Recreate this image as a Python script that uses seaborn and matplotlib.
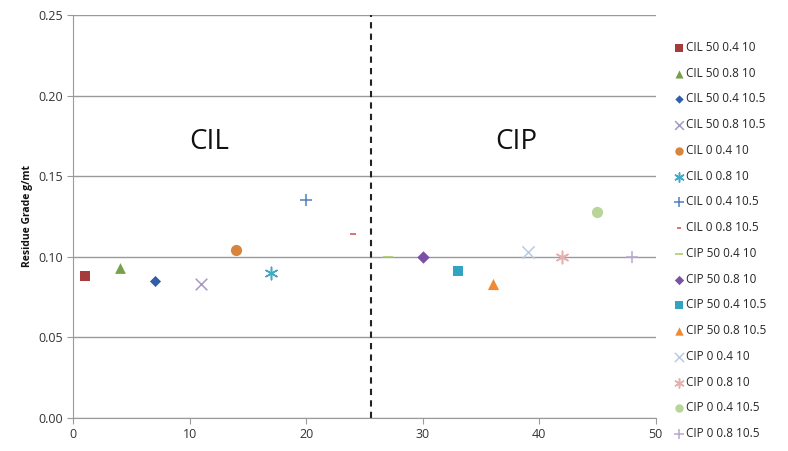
import matplotlib
matplotlib.use("Agg")
import matplotlib.pyplot as plt
import seaborn as sns
import pandas as pd

labels = ["CIL 50 0.4 10", "CIL 50 0.8 10", "CIL 50 0.4 10.5", "CIL 50 0.8 10.5",
          "CIL 0 0.4 10", "CIL 0 0.8 10", "CIL 0 0.4 10.5", "CIL 0 0.8 10.5",
          "CIP 50 0.4 10", "CIP 50 0.8 10", "CIP 50 0.4 10.5", "CIP 50 0.8 10.5",
          "CIP 0 0.4 10", "CIP 0 0.8 10", "CIP 0 0.4 10.5", "CIP 0 0.8 10.5"]
run = [1, 4, 7, 11, 14, 17, 20, 24, 27, 30, 33, 36, 39, 42, 45, 48]
grade = [0.088, 0.093, 0.085, 0.083, 0.104, 0.090, 0.135, 0.114,
         0.100, 0.100, 0.091, 0.083, 0.103, 0.100, 0.128, 0.100]

colors = ["#A53B3A", "#77A04A", "#2F5FA8", "#A699C4", "#D9843C", "#45A8C4", "#4F7FC0", "#D05050",
          "#A8C860", "#7B4FA6", "#33A3C2", "#F08A36", "#B8CCE6", "#E4B0B0", "#B9D59A", "#B8A8D0"]
markers = ["s", "^", "D", "x", "o", (6, 2, 0), "+", "_",
           "_", "D", "s", "^", "x", (6, 2, 0), "o", "+"]
sizes = [55, 60, 32, 70, 65, 80, 80, 20, 60, 40, 60, 65, 80, 80, 65, 80]
line_art = ["x", "+", "_", "|", (6, 2, 0)]

df = pd.DataFrame({"run": run, "grade": grade, "label": labels})

sns.set_style("white")
plt.rcParams["font.family"] = ["Open Sans", "DejaVu Sans"]

fig, ax = plt.subplots(figsize=(7.88, 4.51), dpi=100)
fig.subplots_adjust(left=0.093, right=0.832, top=0.967, bottom=0.073)

for i, row in df.iterrows():
    sns.scatterplot(data=df.iloc[[i]], x="run", y="grade", ax=ax,
                    color=colors[i], marker=markers[i], s=sizes[i],
                    linewidth=1.1 if markers[i] in line_art else 0,
                    label=row["label"])

ax.axvline(25.6, color="#222222", linestyle=(0, (3, 2.5)), linewidth=1.5)
ax.text(11.7, 0.171, "CIL", fontsize=20, ha="center", va="center", color="#111111")
ax.text(38.0, 0.171, "CIP", fontsize=20, ha="center", va="center", color="#111111")

ax.set_xlim(0, 50)
ax.set_ylim(0, 0.25)
ax.set_xticks([0, 10, 20, 30, 40, 50])
ax.set_yticks([0, 0.05, 0.10, 0.15, 0.20, 0.25])
ax.set_yticklabels(["0.00", "0.05", "0.10", "0.15", "0.20", "0.25"])
ax.yaxis.grid(True, color="#9a9a9a", linewidth=1)
ax.xaxis.grid(False)
ax.set_axisbelow(True)
for s in ["top", "right"]:
    ax.spines[s].set_visible(False)
for s in ["left", "bottom"]:
    ax.spines[s].set_color("#9a9a9a")
ax.tick_params(axis="both", labelsize=9, colors="#333333", length=4, direction="out",
               left=True, bottom=True, color="#9a9a9a")
ax.set_xlabel("")
ax.set_ylabel("Residue Grade g/mt", fontsize=7.5, fontweight="bold", color="#111111")

ax.legend(loc="upper left", bbox_to_anchor=(1.022, 0.947), frameon=False, fontsize=8.5,
          handletextpad=0.05, labelspacing=1.08, borderaxespad=0, handlelength=1,
          markerscale=0.75)

fig.savefig("out.png", dpi=100)
